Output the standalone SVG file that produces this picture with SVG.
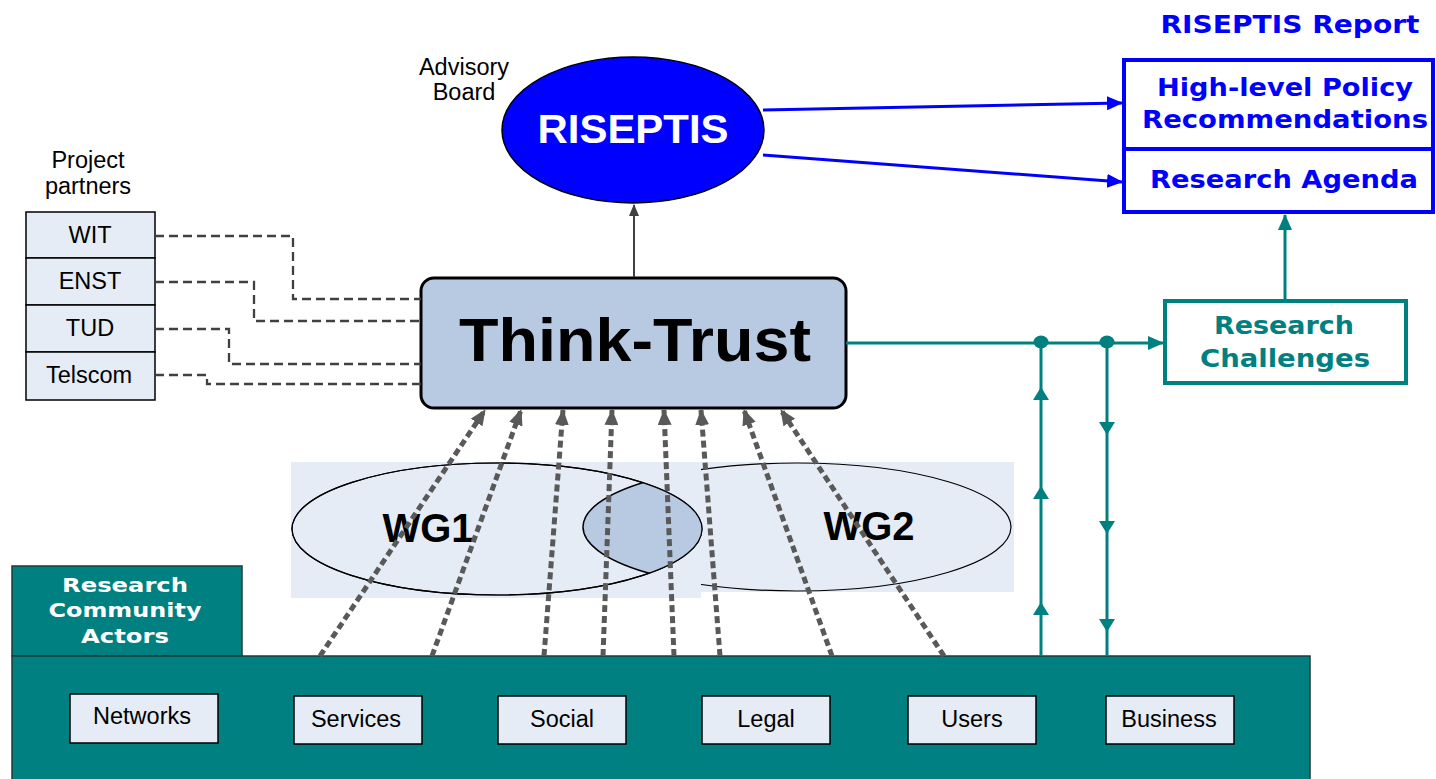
<svg xmlns="http://www.w3.org/2000/svg" width="1436" height="779" viewBox="0 0 1436 779">
<style>
.t{font-family:"Liberation Sans",Arial,sans-serif;font-size:23.5px;fill:#000;text-anchor:middle}
.b{font-family:"DejaVu Sans","Liberation Sans",sans-serif;font-weight:bold;text-anchor:middle}
.box{fill:#e6ecf6;stroke:#000;stroke-width:1.5}
.pd{fill:none;stroke:#404040;stroke-width:2.3;stroke-dasharray:9 5}
.dot{fill:none;stroke:#595959;stroke-width:5;stroke-dasharray:7 4}
.teal{fill:none;stroke:#008080;stroke-width:3}
.blue{fill:none;stroke:#0000ff;stroke-width:3}
</style>
<defs>
<marker id="ag" markerUnits="userSpaceOnUse" markerWidth="16" markerHeight="14" refX="15" refY="7" orient="auto"><path d="M0,0 L16,7 L0,14 z" fill="#595959"/></marker>
<marker id="ag2" markerUnits="userSpaceOnUse" markerWidth="12" markerHeight="10" refX="11" refY="5" orient="auto"><path d="M0,0 L12,5 L0,10 z" fill="#404040"/></marker>
<marker id="ab" markerUnits="userSpaceOnUse" markerWidth="16" markerHeight="14" refX="15" refY="7" orient="auto"><path d="M0,0 L16,7 L0,14 z" fill="#0000ff"/></marker>
<marker id="at" markerUnits="userSpaceOnUse" markerWidth="16" markerHeight="14" refX="15" refY="7" orient="auto"><path d="M0,0 L16,7 L0,14 z" fill="#008080"/></marker>
<clipPath id="wg1clip"><ellipse cx="497" cy="529" rx="205" ry="66"/></clipPath>
</defs>

<!-- WG area -->
<g id="wg-area">
<rect x="701" y="462" width="313" height="130" fill="#e6ecf6"/>
<ellipse cx="797" cy="527" rx="214" ry="64" fill="none" stroke="#000" stroke-width="1.2"/>
<rect x="291" y="462" width="410" height="136" fill="#e6ecf6"/>
<ellipse cx="497" cy="529" rx="205" ry="66" fill="none" stroke="#000" stroke-width="1.2"/>
<ellipse cx="797" cy="527" rx="214" ry="64" fill="#b8c9e2" stroke="#000" stroke-width="1.5" clip-path="url(#wg1clip)"/>
<ellipse cx="497" cy="529" rx="205" ry="66" fill="none" stroke="#000" stroke-width="1.2"/>
</g>
<g id="wg1"><text x="428" y="542" font-family="Liberation Sans,Arial,sans-serif" font-weight="bold" font-size="40" text-anchor="middle">WG1</text></g>
<g id="wg2"><text x="869" y="540" font-family="Liberation Sans,Arial,sans-serif" font-weight="bold" font-size="40" text-anchor="middle">WG2</text></g>

<!-- Research community bar -->
<g id="community">
<rect x="12" y="566" width="230" height="90" fill="#008080" stroke="#1d3b3b" stroke-width="1.5"/>
<rect x="12" y="656" width="1298" height="130" fill="#008080" stroke="#1d3b3b" stroke-width="1.5"/>
<text class="b" x="125" y="592" font-size="20" fill="#fff" textLength="126" lengthAdjust="spacingAndGlyphs">Research</text>
<text class="b" x="125" y="617" font-size="20" fill="#fff" textLength="153" lengthAdjust="spacingAndGlyphs">Community</text>
<text class="b" x="125" y="643" font-size="20" fill="#fff" textLength="88" lengthAdjust="spacingAndGlyphs">Actors</text>
</g>
<g id="networks"><rect class="box" x="70" y="694" width="148" height="49"/><text class="t" x="142" y="724">Networks</text></g>
<g id="services"><rect class="box" x="294" y="696" width="128" height="48"/><text class="t" x="356" y="727">Services</text></g>
<g id="social"><rect class="box" x="498" y="696" width="128" height="48"/><text class="t" x="562" y="727">Social</text></g>
<g id="legal"><rect class="box" x="702" y="696" width="128" height="48"/><text class="t" x="766" y="727">Legal</text></g>
<g id="users"><rect class="box" x="908" y="696" width="128" height="48"/><text class="t" x="972" y="727">Users</text></g>
<g id="business"><rect class="box" x="1106" y="696" width="128" height="48"/><text class="t" x="1169" y="727">Business</text></g>

<!-- Project partners -->
<g id="partners">
<text class="t" x="88" y="168">Project</text>
<text class="t" x="88" y="194">partners</text>
<rect class="box" x="26" y="212" width="129" height="46"/>
<rect class="box" x="26" y="258" width="129" height="47"/>
<rect class="box" x="26" y="305" width="129" height="47"/>
<rect class="box" x="26" y="352" width="129" height="48"/>
<text class="t" x="90" y="243">WIT</text>
<text class="t" x="90" y="289">ENST</text>
<text class="t" x="90" y="336">TUD</text>
<text class="t" x="89" y="383">Telscom</text>
</g>

<!-- RISEPTIS -->
<g id="advisory"><text class="t" x="464" y="75">Advisory</text><text class="t" x="464" y="100">Board</text></g>
<g id="riseptis">
<ellipse cx="633" cy="130" rx="131" ry="73" fill="#0000ff" stroke="#000" stroke-width="1.5"/>
<text x="633" y="143" font-family="Liberation Sans,Arial,sans-serif" font-weight="bold" font-size="40" fill="#fff" text-anchor="middle" textLength="191" lengthAdjust="spacingAndGlyphs">RISEPTIS</text>
</g>

<!-- Report -->
<g id="report">
<text class="b" x="1290" y="33" font-size="24" fill="#0000ff" textLength="259" lengthAdjust="spacingAndGlyphs">RISEPTIS Report</text>
<rect x="1124" y="60" width="309" height="152" fill="#fff" stroke="#0000ff" stroke-width="4"/>
<line x1="1124" y1="149" x2="1433" y2="149" stroke="#0000ff" stroke-width="4"/>
<text class="b" x="1285" y="96" font-size="24" fill="#0000ff" textLength="256" lengthAdjust="spacingAndGlyphs">High-level Policy</text>
<text class="b" x="1285" y="128" font-size="24" fill="#0000ff" textLength="286" lengthAdjust="spacingAndGlyphs">Recommendations</text>
<text class="b" x="1284" y="188" font-size="24" fill="#0000ff" textLength="268" lengthAdjust="spacingAndGlyphs">Research Agenda</text>
</g>

<!-- Research Challenges -->
<g id="challenges">
<rect x="1165" y="301" width="241" height="82" fill="#fff" stroke="#008080" stroke-width="4"/>
<text class="b" x="1284" y="334" font-size="24" fill="#008080" textLength="140" lengthAdjust="spacingAndGlyphs">Research</text>
<text class="b" x="1285" y="367" font-size="24" fill="#008080" textLength="170" lengthAdjust="spacingAndGlyphs">Challenges</text>
</g>

<!-- Think-Trust -->
<g id="think-trust">
<rect x="421" y="278" width="425" height="130" rx="13" fill="#b8c9e2" stroke="#000" stroke-width="3"/>
<text x="635" y="361" font-family="Liberation Sans,Arial,sans-serif" font-weight="bold" font-size="62" text-anchor="middle" textLength="352" lengthAdjust="spacingAndGlyphs">Think-Trust</text>
</g>

<!-- Connectors -->
<g id="connectors">
<path class="pd" d="M155,236 H293 V299 H421"/>
<path class="pd" d="M155,282 H254 V321 H421"/>
<path class="pd" d="M155,329 H229 V364 H421"/>
<path class="pd" d="M155,375 H207 V384 H421"/>

<line x1="634" y1="277" x2="634" y2="205" stroke="#404040" stroke-width="2" marker-end="url(#ag2)"/>

<line class="blue" x1="763" y1="110" x2="1122" y2="103" marker-end="url(#ab)"/>
<line class="blue" x1="763" y1="155" x2="1122" y2="182" marker-end="url(#ab)"/>

<line class="dot" x1="320" y1="656" x2="485" y2="410" marker-end="url(#ag)"/>
<line class="dot" x1="432" y1="656" x2="521" y2="410" marker-end="url(#ag)"/>
<line class="dot" x1="544" y1="656" x2="563" y2="410" marker-end="url(#ag)"/>
<line class="dot" x1="603" y1="656" x2="612" y2="410" marker-end="url(#ag)"/>
<line class="dot" x1="674" y1="656" x2="664" y2="410" marker-end="url(#ag)"/>
<line class="dot" x1="720" y1="656" x2="701" y2="410" marker-end="url(#ag)"/>
<line class="dot" x1="832" y1="656" x2="744" y2="410" marker-end="url(#ag)"/>
<line class="dot" x1="944" y1="656" x2="781" y2="410" marker-end="url(#ag)"/>

<line class="teal" x1="846" y1="343" x2="1163" y2="343" marker-end="url(#at)"/>
<line class="teal" x1="1285" y1="300" x2="1285" y2="215" marker-end="url(#at)"/>
<line class="teal" x1="1041" y1="656" x2="1041" y2="343"/>
<line class="teal" x1="1107" y1="343" x2="1107" y2="656"/>
<ellipse cx="1041" cy="342" rx="7.5" ry="6.5" fill="#008080"/>
<ellipse cx="1107" cy="342" rx="7.5" ry="6.5" fill="#008080"/>
<g fill="#008080">
<polygon points="1041,387 1033,400 1049,400"/>
<polygon points="1041,486 1033,499 1049,499"/>
<polygon points="1041,602 1033,615 1049,615"/>
<polygon points="1107,435 1099,422 1115,422"/>
<polygon points="1107,534 1099,521 1115,521"/>
<polygon points="1107,632 1099,619 1115,619"/>
</g>
</g>
</svg>
